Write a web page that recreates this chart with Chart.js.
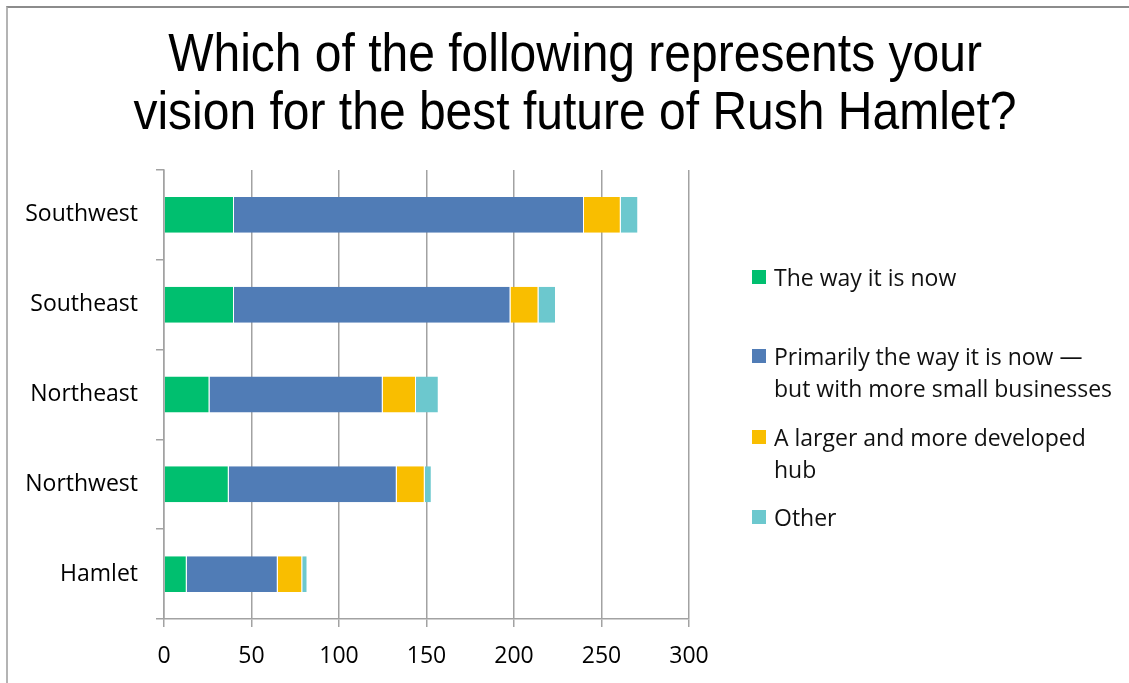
<!DOCTYPE html>
<html>
<head>
<meta charset="utf-8">
<title>Rush Hamlet future vision</title>
<script src="https://cdn.jsdelivr.net/npm/chart.js@4.4.1/dist/chart.umd.min.js"></script>
<style>
  html, body { margin: 0; padding: 0; background: #fff; }
  #wrap { position: relative; width: 1129px; height: 683px; overflow: hidden; }
  #frame {
    position: absolute; left: 6px; top: 6px; right: -4px; bottom: -4px;
    border-top: 2px solid #8c8c8c; border-left: 2px solid #b4b4b4;
    pointer-events: none;
  }
  canvas { position: absolute; left: 0; top: 0; }
</style>
</head>
<body>
<div id="wrap">
  <canvas id="chart" width="1129" height="683"></canvas>
  <div id="frame"></div>
</div>
<script>
// regions, listed top to bottom
const regions = ["Southwest", "Southeast", "Northeast", "Northwest", "Hamlet"];

// responses per region for each option
const wayItIsNow = [40, 40, 26, 37, 13];
const moreSmallBusinesses = [200, 158, 99, 96, 52];
const largerHub = [21, 16, 19, 16, 14];
const other = [10, 10, 13, 4, 3];

const seriesNames = [
  ["The way it is now"],
  ["Primarily the way it is now \u2014", "but with more small businesses"],
  ["A larger and more developed", "hub"],
  ["Other"],
];
const seriesColors = ["#00BF6F", "#507CB6", "#F9BE00", "#6CC8CE"];

const xTicks = [0, 50, 100, 150, 200, 250, 300];

const titleLines = [
  "Which of the following represents your",
  "vision for the best future of Rush Hamlet?",
];

const FONT = "'Open Sans', 'Noto Sans', sans-serif";
const GRID = "#a2a2a2";

// title and the right-hand legend are drawn by hand
const decorations = {
  id: "decorations",
  afterDraw(chart) {
    const ctx = chart.ctx;
    ctx.save();
    ctx.fillStyle = "#000";
    ctx.textAlign = "center";
    ctx.textBaseline = "middle";
    ctx.font = "48px 'Liberation Sans', Arial, sans-serif";
    // slightly tall lettering
    [56, 114].forEach((y, i) => {
      ctx.save();
      ctx.translate(575, y);
      ctx.scale(1, 1.1);
      ctx.fillText(titleLines[i], 0, 0);
      ctx.restore();
    });

    const itemTops = [277, 356, 437, 517];
    ctx.textAlign = "left";
    ctx.font = "23px " + FONT;
    chart.data.datasets.forEach((ds, i) => {
      const y = itemTops[i];
      ctx.fillStyle = ds.backgroundColor;
      ctx.fillRect(752, y - 7, 14, 14);
      ctx.fillStyle = "#111";
      seriesNames[i].forEach((line, j) => {
        ctx.fillText(line, 774, y + 2 + j * 32);
      });
    });
    ctx.restore();
  },
};

const values = [wayItIsNow, moreSmallBusinesses, largerHub, other];

new Chart(document.getElementById("chart"), {
  type: "bar",
  data: {
    labels: regions,
    datasets: values.map((v, i) => ({
      label: seriesNames[i].join(" "),
      data: v,
      backgroundColor: seriesColors[i],
      borderColor: "rgba(255,255,255,0.35)",
      borderWidth: { right: 1 },
      borderSkipped: false,
      barPercentage: 0.4,
      categoryPercentage: 1,
    })),
  },
  options: {
    indexAxis: "y",
    responsive: false,
    animation: false,
    layout: { padding: { top: 170, right: 440, bottom: 0, left: 0 } },
    plugins: {
      legend: { display: false },
      title: { display: false },
      tooltip: { enabled: false },
    },
    scales: {
      x: {
        stacked: true,
        min: 0,
        max: 300,
        afterBuildTicks: (s) => { s.ticks = xTicks.map((v) => ({ value: v })); },
        afterFit: (s) => { s.height = 64; },
        grid: { color: GRID, lineWidth: 1.5, tickLength: 8, drawTicks: true },
        border: { color: GRID, width: 1.5 },
        ticks: { color: "#000", font: { family: FONT, size: 23 }, padding: 16, maxRotation: 0 },
      },
      y: {
        stacked: true,
        afterFit: (s) => { s.width = 164; },
        grid: { drawOnChartArea: false, color: GRID, lineWidth: 1.5, tickLength: 8, offset: true },
        border: { color: GRID, width: 1.5 },
        ticks: { color: "#000", font: { family: FONT, size: 23 }, padding: 18 },
      },
    },
  },
  plugins: [decorations],
});
</script>
</body>
</html>
